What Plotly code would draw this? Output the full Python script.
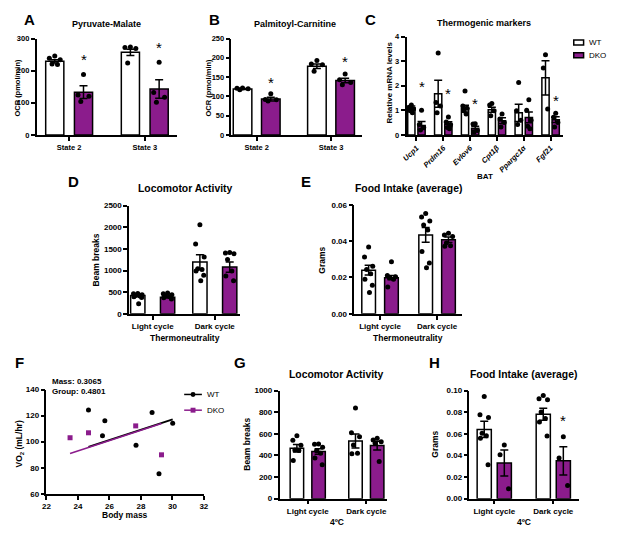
import plotly.graph_objects as go

W, H = 617, 535
OX, OY = 8, 8  # the page puts the figure 8px in from the window corner
PURPLE = '#8B1C8C'
FONT = 'Liberation Sans, Arial, sans-serif'

# ---- A: Pyruvate-Malate (OCR pmol/min)
a_cats = ['State 2', 'State 3']
a_wt_mean = [229, 257]
a_wt_sem = [5, 10]
a_dko_mean = [133, 143]
a_dko_sem = [20, 29]
a_wt_pts = [[246, 239, 234, 221, 219], [274, 272, 269, 224]]
a_dko_pts = [[188, 124, 120, 104], [226, 132, 117, 102]]

# ---- B: Palmitoyl-Carnitine
b_cats = ['State 2', 'State 3']
b_wt_mean = [119, 178]
b_wt_sem = [1.5, 6]
b_dko_mean = [93, 141]
b_dko_sem = [5, 6]
b_wt_pts = [[122, 121, 120, 117], [193, 184, 182, 165]]
b_dko_pts = [[107, 92, 91, 88], [158, 143, 136, 130]]

# ---- C: Thermogenic markers (BAT)
c_genes = ['Ucp1', 'Prdm16', 'Evlov6', 'Cpt1β', 'Ppargc1α', 'Fgf21']
c_wt_mean = [1.10, 1.67, 1.07, 1.02, 0.90, 2.32]
c_wt_sem = [0.08, 0.55, 0.14, 0.10, 0.35, 0.70]
c_dko_mean = [0.38, 0.43, 0.27, 0.58, 0.71, 0.62]
c_dko_sem = [0.16, 0.10, 0.08, 0.12, 0.22, 0.12]
c_wt_pts = [[1.22, 1.12, 1.05, 0.98, 0.90], [3.33, 1.32, 1.18, 0.90],
            [1.79, 1.18, 1.08, 0.98, 0.85], [1.28, 1.22, 0.98, 0.78],
            [2.13, 0.98, 0.60, 0.42], [3.26, 2.72, 1.05]]
c_dko_pts = [[1.00, 0.42, 0.30, 0.20], [0.73, 0.52, 0.42, 0.30, 0.25],
             [0.45, 0.44, 0.18, 0.12], [0.85, 0.65, 0.50, 0.32],
             [1.43, 1.00, 0.60, 0.35, 0.25], [0.88, 0.72, 0.50, 0.32]]

# ---- D: Locomotor activity, thermoneutrality
cycles = ['Light cycle', 'Dark cycle']
d_wt_mean = [423, 1201]
d_wt_sem = [25, 165]
d_dko_mean = [385, 1080]
d_dko_sem = [20, 120]
d_wt_pts = [[470, 462, 440, 425, 410, 395, 380, 234],
            [2062, 1616, 1314, 1042, 1027, 990, 891, 763]]
d_dko_pts = [[480, 465, 440, 420, 395, 370, 345],
             [1420, 1405, 1390, 1254, 990, 876, 763]]

# ---- E: Food intake, thermoneutrality
e_wt_mean = [0.0240, 0.0434]
e_wt_sem = [0.0027, 0.0040]
e_dko_mean = [0.0199, 0.0407]
e_dko_sem = [0.0012, 0.0015]
e_wt_pts = [[0.0367, 0.0313, 0.0262, 0.0244, 0.0220, 0.0190, 0.0157, 0.0117],
            [0.0551, 0.0533, 0.0510, 0.0488, 0.0461, 0.0343, 0.0280, 0.0253]]
e_dko_pts = [[0.0286, 0.0211, 0.0204, 0.0199, 0.0190, 0.0148],
             [0.0443, 0.0434, 0.0425, 0.0389, 0.0374, 0.0371]]

# ---- F: VO2 vs body mass
f_wt_mass = [24.67, 25.71, 25.56, 27.69, 28.71, 29.15, 30.02]
f_wt_vo2 = [124.2, 116.1, 104.5, 97.2, 122.4, 75.3, 114.1]
f_dko_mass = [23.5, 24.67, 27.67, 29.31]
f_dko_vo2 = [103.0, 106.8, 112.1, 89.9]
f_slope = 3.95
f_wt_int = -1.45
f_dko_int = -1.9

# ---- G: Locomotor activity, 4ºC
g_wt_mean = [466, 534]
g_wt_sem = [35, 65]
g_dko_mean = [436, 491]
g_dko_sem = [25, 40]
g_wt_pts = [[582, 540, 495, 451, 445, 354], [838, 610, 573, 497, 421, 415]]
g_dko_pts = [[506, 503, 476, 442, 421, 375, 314], [558, 543, 527, 512, 344]]

# ---- H: Food intake, 4ºC
h_wt_mean = [0.064, 0.078]
h_wt_sem = [0.0075, 0.0055]
h_dko_mean = [0.033, 0.035]
h_dko_sem = [0.012, 0.013]
h_wt_pts = [[0.0945, 0.0777, 0.0750, 0.0604, 0.0582, 0.0558, 0.0314],
            [0.0954, 0.0924, 0.0915, 0.0802, 0.0741, 0.0710, 0.0580]]
h_dko_pts = [[0.0497, 0.0405, 0.0091], [0.0573, 0.0375, 0.0122]]

fig = go.Figure()
annots = []
shapes = []


def sfx(k):
    return '' if k == 1 else str(k)


def px(x):
    return (x - OX) / W


def py(y):
    return 1 - (y - OY) / H


def jitter(n, w):
    pattern = [0, -1, 1, -0.5, 0.5, -0.9, 0.9, 0.2, -0.2]
    return [pattern[i % len(pattern)] * w for i in range(n)]


def bar_panel(k, ncat, wt_mean, wt_sem, dko_mean, dko_sem, wt_pts, dko_pts, off, bw):
    ax = sfx(k)
    groups = [('WT', wt_mean, wt_sem, wt_pts, 'white', -1),
              ('DKO', dko_mean, dko_sem, dko_pts, PURPLE, 1)]
    for name, mean, sem, pts, fill, sign in groups:
        xs = [i + sign * off for i in range(ncat)]
        fig.add_trace(go.Bar(
            x=xs, y=mean, width=bw, name=name,
            marker=dict(color=fill, line=dict(color='black', width=1.5)),
            error_y=dict(type='data', array=sem, color='black', thickness=1.5, width=4),
            xaxis='x' + ax, yaxis='y' + ax, showlegend=False))
        sx, sy = [], []
        for i, p in enumerate(pts):
            sx += [xs[i] + j for j in jitter(len(p), bw * 0.3)]
            sy += p
        fig.add_trace(go.Scatter(
            x=sx, y=sy, mode='markers', marker=dict(color='black', size=5),
            xaxis='x' + ax, yaxis='y' + ax, showlegend=False, cliponaxis=False))


def axes(k, xdom, ydom, xrange, yrange, ydtick, tickvals=None, ticktext=None,
         xdtick=None, yfmt=None, tsize=8, tickangle=0, italic=False):
    ax = sfx(k)
    line = dict(showline=True, linecolor='black', linewidth=1.5, ticks='outside',
                ticklen=4, tickwidth=1.5, tickcolor='black', showgrid=False, zeroline=False)
    xa = dict(domain=[px(xdom[0]), px(xdom[1])], anchor='y' + ax, range=xrange,
              tickfont=dict(family=FONT, size=tsize, color='black', weight='bold',
                            style='italic' if italic else 'normal'),
              tickangle=tickangle, **line)
    if tickvals is not None:
        xa.update(tickmode='array', tickvals=tickvals, ticktext=ticktext)
    else:
        xa.update(dtick=xdtick, tick0=xrange[0])
    ya = dict(domain=[py(ydom[1]), py(ydom[0])], anchor='x' + ax, range=yrange,
              dtick=ydtick, tick0=yrange[0], tickformat=yfmt,
              tickfont=dict(family=FONT, size=tsize, color='black', weight='bold'), **line)
    fig.update_layout(**{'xaxis' + ax: xa, 'yaxis' + ax: ya})


def ann(text, x, y, size, bold=True, angle=0, xanchor='center'):
    annots.append(dict(text=text, x=px(x), y=py(y), xref='paper', yref='paper',
                       showarrow=False, textangle=angle, xanchor=xanchor, yanchor='middle',
                       font=dict(family=FONT, size=size, color='black',
                                 weight='bold' if bold else 'normal')))


def star(k, x, y):
    ax = sfx(k)
    annots.append(dict(text='*', x=x, y=y, xref='x' + ax, yref='y' + ax, showarrow=False,
                       yanchor='middle', font=dict(family=FONT, size=15, color='black')))


def pshape(kind, x0, y0, x1, y1, **kw):
    shapes.append(dict(type=kind, xref='paper', yref='paper', x0=px(x0), x1=px(x1),
                       y0=py(y0), y1=py(y1), **kw))


# A
bar_panel(1, 2, a_wt_mean, a_wt_sem, a_dko_mean, a_dko_sem, a_wt_pts, a_dko_pts, 0.19, 0.24)
axes(1, (32, 175), (35, 133), [-0.43, 1.43], [0, 300], 100, [0, 1], a_cats, tsize=7.5)
star(1, 0.19, 235)
star(1, 1.19, 273)
# B
bar_panel(2, 2, b_wt_mean, b_wt_sem, b_dko_mean, b_dko_sem, b_wt_pts, b_dko_pts, 0.19, 0.25)
axes(2, (230, 363), (35, 133), [-0.34, 1.42], [0, 250], 50, [0, 1], b_cats, tsize=7.5)
star(2, 0.19, 135)
star(2, 1.19, 191)
# C
bar_panel(3, 6, c_wt_mean, c_wt_sem, c_dko_mean, c_dko_sem, c_wt_pts, c_dko_pts, 0.19, 0.27)
axes(3, (408, 567), (33, 133), [-0.37, 5.46], [0, 4], 1, list(range(6)), c_genes,
     tsize=7.5, tickangle=-45, italic=True)
for i, y in zip([0, 1, 2, 5], [1.95, 1.67, 1.29, 1.4]):
    star(3, i + 0.19, y)
# D
bar_panel(4, 2, d_wt_mean, d_wt_sem, d_dko_mean, d_dko_sem, d_wt_pts, d_dko_pts, 0.24, 0.23)
axes(4, (126, 239), (205, 315), [-0.38, 1.41], [0, 2500], 500, [0, 1], cycles)
# E
bar_panel(5, 2, e_wt_mean, e_wt_sem, e_dko_mean, e_dko_sem, e_wt_pts, e_dko_pts, 0.2, 0.24)
axes(5, (355, 464), (204, 315), [-0.45, 1.43], [0, 0.06], 0.02, [0, 1], cycles, yfmt='.2f')
# G
bar_panel(7, 2, g_wt_mean, g_wt_sem, g_dko_mean, g_dko_sem, g_wt_pts, g_dko_pts, 0.185, 0.23)
axes(7, (279, 388), (393, 503), [-0.48, 1.35], [0, 1000], 200, [0, 1], cycles)
# H
bar_panel(8, 2, h_wt_mean, h_wt_sem, h_dko_mean, h_dko_sem, h_wt_pts, h_dko_pts, 0.17, 0.24)
axes(8, (472, 583), (393, 503), [-0.42, 1.43], [0, 0.10], 0.02, [0, 1], cycles, yfmt='.2f')
star(8, 1.17, 0.072)

# F scatter with common-slope fits
for mass, vo2, icpt, color, sym, lw in [
        (f_wt_mass, f_wt_vo2, f_wt_int, 'black', 'circle', 2),
        (f_dko_mass, f_dko_vo2, f_dko_int, PURPLE, 'square', 1.5)]:
    xs = [min(mass), max(mass)]
    fig.add_trace(go.Scatter(x=xs, y=[icpt + f_slope * v for v in xs], mode='lines',
                             line=dict(color=color, width=lw), xaxis='x6', yaxis='y6',
                             showlegend=False))
    fig.add_trace(go.Scatter(x=mass, y=vo2, mode='markers',
                             marker=dict(color=color, symbol=sym, size=5),
                             xaxis='x6', yaxis='y6', showlegend=False, cliponaxis=False))
axes(6, (42, 202), (392, 498), [22, 32], [60, 140], 20, xdtick=2)

# legend of C (drawn by hand so it fits beside the panel)
pshape('rect', 578, 36.5, 588, 41.5, line=dict(color='black', width=1.5), fillcolor='white')
pshape('rect', 578, 49.5, 588, 54.5, line=dict(color='black', width=1.5), fillcolor=PURPLE)
ann('WT', 591, 39, 8, bold=False, xanchor='left')
ann('DKO', 591, 52, 8, bold=False, xanchor='left')
# legend of F
pshape('line', 182, 397, 200, 397, line=dict(color='black', width=1.5))
pshape('circle', 188.5, 394.5, 193.5, 399.5, line=dict(color='black', width=0), fillcolor='black')
pshape('line', 182, 413, 200, 413, line=dict(color=PURPLE, width=1.5))
pshape('rect', 188.5, 410.5, 193.5, 415.5, line=dict(color=PURPLE, width=0), fillcolor=PURPLE)
ann('WT', 203, 397, 8, bold=False, xanchor='left')
ann('DKO', 203, 413, 8, bold=False, xanchor='left')

# text
ann('A', 25, 16, 15)
ann('Pyruvate-Malate', 103, 20, 9)
ann('OCR (pmol/min)', 13, 85, 7.5, angle=-90)
ann('B', 213, 16, 15)
ann('Palmitoyl-Carnitine', 295, 20, 9)
ann('OCR (pmol/min)', 207, 85, 7.5, angle=-90)
ann('C', 371, 16, 15)
ann('Thermogenic markers', 487, 19, 9)
ann('Relative mRNA levels', 391, 80, 8, angle=-90)
ann('BAT', 488, 175, 8)
ann('D', 70, 180, 15)
ann('Locomotor Activity', 183, 188, 10.4)
ann('Beam breaks', 92, 260, 8.5, angle=-90)
ann('Thermoneutrality', 183, 340, 8.5)
ann('E', 306, 180, 15)
ann('Food Intake (average)', 410, 188, 10.4)
ann('Grams', 322, 260, 8.5, angle=-90)
ann('Thermoneutrality', 410, 340, 8.5)
ann('F', 15, 365, 15)
ann('Mass: 0.3065', 46, 384, 8, xanchor='left')
ann('Group: 0.4801', 46, 394, 8, xanchor='left')
ann('VO<sub>2</sub> (mL/hr)', 15, 447, 8.5, angle=-90)
ann('Body mass', 122, 520, 8.5)
ann('G', 239, 365, 15)
ann('Locomotor Activity', 337, 377, 10.4)
ann('Beam breaks', 245, 448, 8.5, angle=-90)
ann('4ºC', 337, 527, 8.5)
ann('H', 436, 365, 15)
ann('Food Intake (average)', 527, 377, 10.4)
ann('Grams', 437, 448, 8.5, angle=-90)
ann('4ºC', 527, 527, 8.5)

fig.update_layout(
    width=W, height=H, margin=dict(l=0, r=0, t=0, b=0),
    paper_bgcolor='white', plot_bgcolor='white', barmode='overlay',
    font=dict(family=FONT, color='black'), showlegend=False,
    annotations=annots, shapes=shapes,
)

fig.write_html('out.html')
